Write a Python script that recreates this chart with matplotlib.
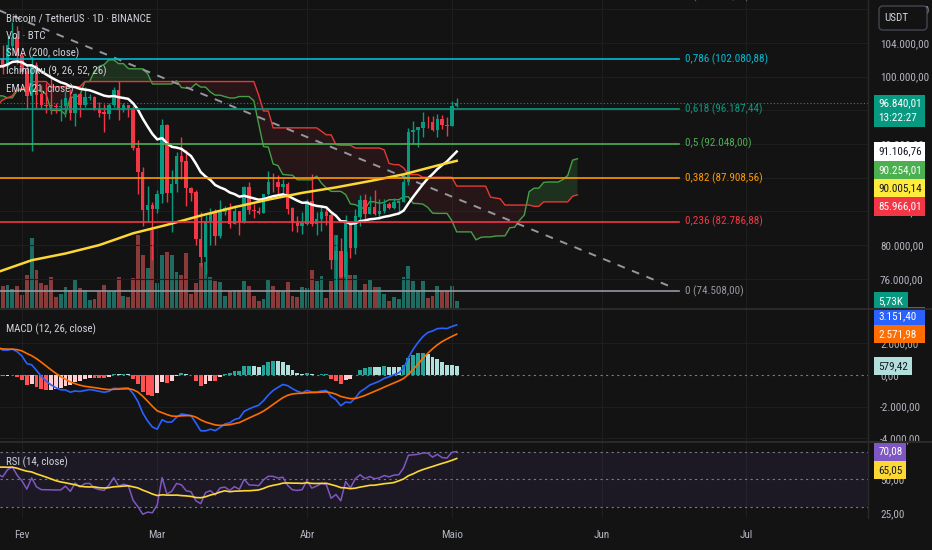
import numpy as np
import pandas as pd
import matplotlib
matplotlib.use("Agg")
import matplotlib.pyplot as plt
from matplotlib import font_manager
from matplotlib.font_manager import FontProperties
from matplotlib.textpath import TextPath
from matplotlib.patches import Rectangle, FancyBboxPatch
from matplotlib.ticker import FuncFormatter

# fonte estreita, parecida com a do TradingView (se houver uma condensada)
prefer = ["Roboto Condensed", "Liberation Sans Narrow", "DejaVu Sans", "Open Sans Condensed",
          "Noto Sans"]
cands = []
for f in font_manager.fontManager.ttflist:
    st = f.stretch
    cond = ("Narrow" in f.name or "Condensed" in f.name
            or st in ("condensed", "semi-condensed", "extra-condensed", "ultra-condensed")
            or (isinstance(st, (int, float)) and st < 500))
    if cond and f.style == "normal" and f.weight in (400, "normal", "regular", "book"):
        cands.append(f)
cands.sort(key=lambda f: prefer.index(f.name) if f.name in prefer else 99)
if cands:
    fam, estica = cands[0].name, cands[0].stretch
else:
    fam, estica = "Roboto", "normal"
plt.rcParams["font.family"] = [fam, "DejaVu Sans"]
plt.rcParams["font.stretch"] = estica


def tamanho(s, largura_px):
    fp = FontProperties(family=[fam, "DejaVu Sans"], stretch=estica, size=10)
    w = TextPath((0, 0), s, prop=fp).get_extents().width
    return 10 * largura_px / (w * 100 / 72)


fs = tamanho("96.840,01", 41)
fs_leg = tamanho("Bitcoin / TetherUS · 1D · BINANCE", 144)

# ---------------- dados (BTCUSDT diario) ----------------
datas = pd.date_range("2024-11-11", "2025-05-02", freq="D")
abertura_inicial = 80370

maximas = [
    # nov
    89000, 89950, 93265, 91800, 91850, 91800, 91700, 92600, 94000, 94900,
    98950, 99590, 98950, 98650, 98900, 94700, 97400, 96700, 98700, 97500,
    # dez
    97900, 98150, 96300, 99000, 104088, 101900, 100550, 101400, 101230, 98270,
    101900, 102540, 102650, 102650, 105250, 107780, 108353, 106470, 102800, 98150,
    99540, 97400, 96400, 99400, 99960, 99900, 97300, 95500, 95200, 94900, 96150,
    # jan
    95000, 97800, 98980, 98750, 98800, 102500, 102720, 97260, 95350, 95840,
    95000, 95400, 95900, 97370, 100680, 100800, 105850, 104990, 106300, 109588,
    107250, 106300, 106850, 107100, 105300, 105500, 103200, 103800, 104800, 106450, 106000,
    # fev
    102800, 101450, 102500, 101750, 99000, 99200, 100140, 96880, 97320, 98350,
    98500, 98120, 98000, 98800, 97970, 97730, 97050, 96750, 96900, 98800,
    99500, 96900, 96670, 96500, 92500, 89290, 87000, 85120,
    # mar
    86560, 95000, 94420, 88910, 91000, 92800, 91280, 86850, 86500, 83950,
    83620, 84360, 84300, 85300, 84670, 85050, 84750, 84100, 87000, 87450,
    84850, 84570, 86100, 88750, 88540, 88290, 87790, 87500, 84560, 83500, 83900,
    # abr
    85500, 88500, 83940, 84720, 84230, 83760, 81240, 80870, 83590, 82700,
    84250, 85900, 86100, 85800, 86500, 85500, 85470, 85100, 85600, 85320,
    88460, 93880, 94700, 94000, 95750, 95280, 95350, 95600, 95470, 95200,
    # mai
    97100, 97424,
]
minimas = [
    80200, 85070, 86100, 86650, 87100, 90100, 88700, 89400, 90400, 91500,
    94000, 97200, 97200, 95750, 92600, 90800, 91800, 94650, 95400, 96100,
    95700, 94150, 93580, 94660, 90500, 95980, 98940, 98700, 94150, 94250,
    95690, 99300, 99200, 100630, 101220, 103330, 105320, 100000, 95670, 92230,
    96400, 94200, 92400, 93400, 97600, 95140, 93250, 94000, 92880, 91320, 91850,
    92750, 94200, 96000, 97500, 97250, 97900, 96130, 92500, 91200, 92200,
    93800, 93700, 89256, 94300, 96500, 97300, 99950, 102280, 99550, 99550,
    100100, 103200, 101250, 102750, 104100, 102500, 97777, 100300, 101300, 103300, 101500,
    100300, 96150, 91231, 96150, 96160, 95680, 95620, 95690, 94700, 95250,
    94870, 94090, 95200, 96380, 97220, 96050, 95200, 93390, 95020, 96430,
    94870, 95770, 95250, 91350, 86050, 82260, 82750, 78258,
    83830, 85050, 85080, 81530, 86330, 87800, 84670, 85250, 80000, 77460,
    76606, 80050, 79950, 80800, 83630, 82020, 82460, 81180, 82600, 83650,
    83180, 83650, 83800, 85950, 86300, 85850, 85860, 83650, 81650, 81570, 81280,
    82430, 82320, 81200, 81660, 82370, 77150, 74508, 76200, 74620, 78450,
    78940, 82250, 82800, 83680, 83600, 83110, 83760, 84300, 84330, 83950,
    85140, 87100, 91950, 91660, 92860, 93880, 93600, 92860, 93780, 92900,
    94100, 96350,
]
fechamentos = [
    88650, 87950, 90400, 87300, 91000, 90550, 89850, 90470, 92300, 94300,
    98350, 98900, 97700, 97900, 93000, 91950, 95950, 95650, 97450, 96400,
    97185, 95840, 95985, 98760, 96590, 99920, 99920, 101170, 97350, 96590,
    101120, 100000, 101420, 101370, 104300, 106060, 106140, 100200, 97460, 97760,
    97220, 95100, 94880, 98700, 99400, 95800, 94170, 95160, 93530, 92640, 93580,
    94590, 96890, 98110, 98240, 98350, 102240, 96950, 95040, 92480, 94700,
    94550, 94500, 94520, 96530, 100500, 99990, 104080, 104560, 101330, 102260,
    106140, 103660, 103950, 104820, 104710, 102620, 102082, 101335, 103733, 104722, 102430,
    100635, 97700, 101400, 97871, 96615, 96593, 96529, 96482, 96500, 97437,
    95747, 97885, 96623, 97508, 97580, 96175, 95773, 95539, 96635, 98333,
    96125, 96577, 96273, 91552, 88680, 84250, 84708, 84350,
    86064, 94270, 86220, 87281, 90606, 89931, 86801, 86222, 80734, 78600,
    82862, 83722, 81066, 83969, 84343, 82579, 84075, 82718, 86855, 84167,
    84043, 83832, 86054, 87498, 87471, 86900, 87177, 84353, 82597, 82334, 82548,
    85169, 82485, 83100, 83844, 83505, 78214, 79235, 76271, 82573, 79626,
    83404, 85287, 83684, 84542, 83668, 84033, 84895, 84450, 85063, 85174,
    87518, 93442, 93691, 93980, 94638, 94628, 93750, 94979, 94284, 94207,
    96492, 96840.01,
]

# volume (mil BTC), de 27/jan a 02/mai
inicio_volume = "2025-01-27"
volumes_k = [
    20.1, 18.6, 19.8, 16.3, 18.6,
    11.5, 28.7, 60.5, 32.9, 21.5, 20.1, 26.4, 9.5, 12.3, 17.8,
    15.8, 24.4, 17.2, 15.8, 6.6, 7.7, 14.3, 19.8, 14.3, 14.3,
    26.6, 10.6, 9.5, 25.8, 62.5, 45.6, 34.4, 67.3,
    21.5, 45.3, 47.8, 45.3, 30.9, 28.7, 47.3, 12.0, 21.5, 38.7,
    39.5, 26.6, 22.9, 22.1, 10.6, 14.9, 15.8, 15.8, 22.9, 18.6,
    10.6, 5.7, 7.7, 24.9, 19.2, 15.8, 14.3, 22.1, 10.6, 9.5, 18.0,
    17.2, 32.4, 22.9, 27.2, 8.6, 22.9, 63.0, 34.4, 48.1, 28.7,
    28.4, 14.9, 20.6, 23.8, 17.8, 17.8, 12.3, 6.3, 9.2, 7.7,
    26.6, 35.8, 22.9, 15.8, 22.9, 8.6, 10.6, 18.6, 14.3, 14.9,
    18.6, 5.73,
]

# SMA 200 (semanal)
sma200_datas = ["2025-01-27", "2025-02-03", "2025-02-10", "2025-02-17", "2025-02-24",
                "2025-03-03", "2025-03-10", "2025-03-17", "2025-03-24", "2025-03-31",
                "2025-04-07", "2025-04-14", "2025-04-21", "2025-04-28", "2025-05-02"]
sma200_valores = [76800, 78200, 79000, 80000, 81400, 82400, 83500, 84500, 85400, 86200,
                  86850, 87600, 88400, 89450, 90005.14]

# Fibonacci e linha de tendencia
fib_baixa, fib_alta = 74508.0, 109588.0
fib_niveis = [0, 0.236, 0.382, 0.5, 0.618, 0.786, 1]
fib_cores = ["#9598a1", "#f23645", "#ff9800", "#4caf50", "#089981", "#00bcd4", "#787b86"]
fib_inicio, fib_fim = "2025-01-20", "2025-06-17"
tend_inicio = ("2025-01-20", 109588.0)
tend_fim = ("2025-06-16", 74900.0)

meses = ["2025-02-01", "2025-03-01", "2025-04-01", "2025-05-01", "2025-06-01", "2025-07-01"]
meses_rotulos = ["Fev", "Mar", "Abr", "Maio", "Jun", "Jul"]

# valores da escala de precos (ultima barra)
preco_atual, hora = 96840.01, "13:22:27"
rot_principal = [(91106.76, "#ffffff", "#131722"), (90254.01, "#4caf50", "#ffffff"),
                 (90005.14, "#ffeb3b", "#131722"), (85966.01, "#f23645", "#ffffff")]
vol_atual = 5.73
macd_rot = (3151.40, 2571.98, 579.42)
rsi_rot = (70.08, 65.05)

# ---------------- calculos ----------------
base = pd.Timestamp("2025-02-01")
dias = lambda d: (pd.Timestamp(d) - base).total_seconds() / 86400.0

h = np.array(maximas, float)
l = np.array(minimas, float)
c = np.array(fechamentos, float)
assert len(h) == len(l) == len(c) == len(datas)
o = np.r_[abertura_inicial, c[:-1]]
h = np.maximum(h, np.maximum(o, c))
l = np.minimum(l, np.minimum(o, c))
x = np.array([dias(d) for d in datas])


def ema(v, n):
    a = 2.0 / (n + 1)
    out = np.empty(len(v))
    out[0] = v[0]
    for i in range(1, len(v)):
        out[i] = a * v[i] + (1 - a) * out[i - 1]
    return out


def rma(v, n):
    out = np.full(len(v), np.nan)
    out[n - 1] = np.mean(v[:n])
    for i in range(n, len(v)):
        out[i] = (v[i] + (n - 1) * out[i - 1]) / n
    return out


ema21 = ema(c, 21)
macd = ema(c, 12) - ema(c, 26)
sinal = ema(macd, 9)
hist = macd - sinal

dif = np.diff(c)
ganho = rma(np.maximum(dif, 0), 14)
perda = rma(np.maximum(-dif, 0), 14)
rsi = np.r_[np.nan, 100 - 100 / (1 + ganho / perda)]
rsi_ma = pd.Series(rsi).rolling(14).mean().values


def meio(n):
    return ((pd.Series(h).rolling(n).max() + pd.Series(l).rolling(n).min()) / 2).values


span_a = (meio(9) + meio(26)) / 2
span_b = meio(52)
x_nuvem = x + 25

vis = x >= -6
xv = np.array([dias(inicio_volume) + i for i in range(len(volumes_k))])
ini_v = int(np.argmin(np.abs(x - xv[0])))
sobe_v = c[ini_v:] >= o[ini_v:]

# ---------------- figura ----------------
W, H = 932, 550
fundo = "#131313"
grade = "#1e1e1e"
texto = "#b2b5be"
verde, vermelho = "#089981", "#f23645"

fig = plt.figure(figsize=(W / 100, H / 100), dpi=100, facecolor=fundo)


def painel(topo, baixo):
    a = fig.add_axes([0, 1 - baixo / H, 868 / W, (baixo - topo) / H])
    a.set_facecolor(fundo)
    for s in a.spines.values():
        s.set_visible(False)
    a.set_xlim(-4.555, 175.16)
    for d in meses:
        a.axvline(dias(d), color=grade, lw=0.8, zorder=0)
    return a


def eixo_direita(a):
    a.yaxis.tick_right()
    a.tick_params(axis="x", length=0, labelbottom=False)
    a.tick_params(axis="y", length=0, pad=8.6, labelcolor=texto, labelsize=fs)


ax = painel(0, 308)
axm = painel(310, 441)
axr = painel(443, 518)

br = lambda v, k=2: f"{v:,.{k}f}".replace(",", "_").replace(".", ",").replace("_", ".")

# --- painel de preco ---
ax.set_ylim(72527, 109107)
ax.set_yticks(np.arange(76000, 108001, 4000))
ax.yaxis.set_major_formatter(FuncFormatter(lambda v, p: br(v)))
for t in np.arange(76000, 108001, 4000):
    ax.axhline(t, color=grade, lw=0.8, zorder=0)

axv = ax.twinx()
axv.set_zorder(ax.get_zorder() - 1)
ax.patch.set_visible(False)
axv.set_facecolor(fundo)
axv.set_ylim(0, 265)
axv.set_yticks([])
for s in axv.spines.values():
    s.set_visible(False)
axv.bar(xv, volumes_k, width=0.8,
        color=np.where(sobe_v, "#1e6b61", "#8b3a3a"), linewidth=0)
for a in (ax, axm, axr):
    eixo_direita(a)

# nuvem de ichimoku
ok = ~np.isnan(span_b) & (x_nuvem >= -8)
xa, A, B = x_nuvem[ok], span_a[ok], span_b[ok]
ax.fill_between(xa, A, B, where=A >= B, interpolate=True, color="#43a047", alpha=0.22, lw=0, zorder=1)
ax.fill_between(xa, A, B, where=A < B, interpolate=True, color="#f23645", alpha=0.09, lw=0, zorder=1)
ax.plot(xa, A, color="#43a047", lw=1, zorder=2)
ax.plot(xa, B, color="#e53935", lw=1, zorder=2)

# velas
cor = np.where(c >= o, verde, vermelho)
ax.vlines(x[vis], l[vis], h[vis], color=cor[vis], lw=1, zorder=4)
ax.bar(x[vis], np.abs(c - o)[vis] + 60, bottom=np.minimum(o, c)[vis] - 30, width=0.72,
       color=cor[vis], lw=0, zorder=4)

# medias
ax.plot(x[x >= -8], ema21[x >= -8], color="#ffffff", lw=1.8, zorder=5)
ax.plot([dias(d) for d in sma200_datas], sma200_valores, color="#fdd835", lw=1.8, zorder=5)

# linha de preco atual
ax.axhline(preco_atual, color=verde, lw=0.8, ls=(0, (1, 2)), zorder=3)

# linha de tendencia
ax.plot([dias(tend_inicio[0]), dias(tend_fim[0])], [tend_inicio[1], tend_fim[1]],
        color="#9598a1", lw=1.4, ls=(0, (4, 4)), zorder=3)

# fibonacci
for nv, cr in zip(fib_niveis, fib_cores):
    p = fib_baixa + nv * (fib_alta - fib_baixa)
    ax.plot([dias(fib_inicio), dias(fib_fim)], [p, p], color=cr, lw=1.2, zorder=6)
    ax.text(dias(fib_fim) + 1.3, p, f"{nv:g}".replace(".", ",") + f" ({br(p)})",
            color=cr, fontsize=fs, va="center", ha="left", clip_on=True, zorder=7)

# --- MACD ---
axm.set_ylim(-4164, 4101)
axm.set_yticks([-4000, -2000, 0, 2000])
axm.yaxis.set_major_formatter(FuncFormatter(lambda v, p: br(v)))
for t in [-4000, -2000, 2000]:
    axm.axhline(t, color=grade, lw=0.8, zorder=0)
axm.axhline(0, color="#787b86", lw=0.8, ls=(0, (2, 3)), zorder=1)
cores_h = []
for i in range(len(hist)):
    ant = hist[i - 1] if i > 0 else hist[i]
    if hist[i] >= 0:
        cores_h.append("#26a69a" if hist[i] > ant else "#b2dfdb")
    else:
        cores_h.append("#ffcdd2" if hist[i] > ant else "#ff5252")
cores_h = np.array(cores_h)
axm.bar(x[vis], hist[vis], width=0.8, color=cores_h[vis], lw=0, zorder=2)
axm.plot(x[x >= -8], macd[x >= -8], color="#2962ff", lw=1.2, zorder=3)
axm.plot(x[x >= -8], sinal[x >= -8], color="#ff6d00", lw=1.2, zorder=3)

# --- RSI ---
axr.set_ylim(21.78, 76.33)
axr.set_yticks([25, 50, 75])
axr.yaxis.set_major_formatter(FuncFormatter(lambda v, p: br(v)))
axr.axhspan(30, 70, color="#7e57c2", alpha=0.1, lw=0, zorder=0)
for t in [30, 50, 70]:
    axr.axhline(t, color="#787b86", lw=0.8, ls=(0, (2, 3)), zorder=1)
axr.plot(x[x >= -8], rsi[x >= -8], color="#7e57c2", lw=1.1, zorder=3)
axr.plot(x[x >= -8], rsi_ma[x >= -8], color="#fdd835", lw=1.2, zorder=3)
axr.set_xticks([dias(d) for d in meses])
axr.set_xticklabels(meses_rotulos)
axr.tick_params(axis="x", labelbottom=True, labelcolor=texto, labelsize=fs, pad=9)

# ---------------- camada de rotulos (pixels) ----------------
ov = fig.add_axes([0, 0, 1, 1], zorder=20)
ov.set_xlim(0, W)
ov.set_ylim(H, 0)
ov.axis("off")
ov.patch.set_alpha(0)


def py(a, v):
    return H - a.transData.transform((0, v))[1]


# separadores
for yy in (309, 442):
    ov.plot([0, W], [yy, yy], color="#2a2a2a", lw=1.5)
ov.plot([868, 868], [0, 518], color="#2a2a2a", lw=1)

# legendas
for i, s in enumerate(["Bitcoin / TetherUS · 1D · BINANCE", "Vol · BTC", "SMA (200, close)",
                       "Ichimoku (9, 26, 52, 26)", "EMA (21, close)"]):
    ov.text(6, 18 + i * 17.8, s, color="#d1d4dc", fontsize=fs_leg, va="center", ha="left")
ov.text(6, 329, "MACD (12, 26, close)", color="#d1d4dc", fontsize=fs_leg, va="center")
ov.text(6, 462, "RSI (14, close)", color="#d1d4dc", fontsize=fs_leg, va="center")

AL = 18.3


def caixa(yc, txt, fc, tc, x0=874, x1=925, alt=AL):
    ov.add_patch(Rectangle((x0, yc - alt / 2), x1 - x0, alt, facecolor=fc, edgecolor="none"))
    ov.text(x0 + 4.5, yc, txt, color=tc, fontsize=fs, va="center", ha="left")


# USDT
ov.add_patch(FancyBboxPatch((879, 6), 48, 24, boxstyle="round,pad=0,rounding_size=4",
                            facecolor=fundo, edgecolor="#434651", lw=1))
ov.text(884, 18, "USDT", color="#d1d4dc", fontsize=fs, va="center", ha="left")

# preco atual + contagem
yp = py(ax, preco_atual)
ov.add_patch(Rectangle((874, yp - 8.3), 51, 32, facecolor=verde, edgecolor="none"))
ov.text(878.5, yp, br(preco_atual), color="#ffffff", fontsize=fs, va="center")
ov.text(878.5, yp + 15, hora, color="#ffffff", fontsize=fs, va="center")

ant = -100
for v, fc, tc in rot_principal:
    yc = max(py(ax, v), ant + AL)
    caixa(yc, br(v), fc, tc)
    ant = yc

# MACD (azul empurrado para cima da laranja)
y_lar = py(axm, macd_rot[1])
caixa(min(py(axm, macd_rot[0]), y_lar - AL), br(macd_rot[0]), "#2962ff", "#ffffff")
caixa(y_lar, br(macd_rot[1]), "#ff6d00", "#ffffff")
caixa(py(axm, macd_rot[2]), br(macd_rot[2]), "#b2dfdb", "#131722", x1=912)

# volume
caixa(py(axv, vol_atual), br(vol_atual) + "K", verde, "#ffffff", x1=908)

# RSI
y_rsi = py(axr, rsi_rot[0])
caixa(y_rsi, br(rsi_rot[0]), "#7e57c2", "#ffffff", x1=906)
caixa(max(py(axr, rsi_rot[1]), y_rsi + AL), br(rsi_rot[1]), "#fdd835", "#131722", x1=906)

fig.savefig("out.png", dpi=100, facecolor=fundo)
